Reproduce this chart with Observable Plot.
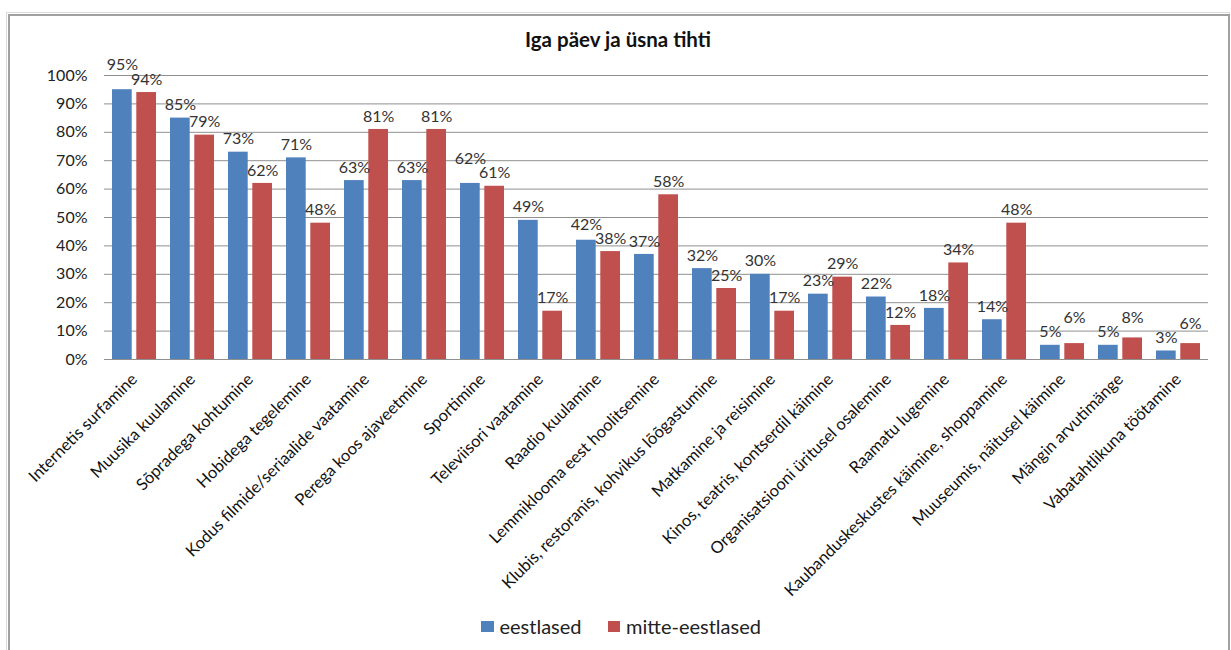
<!DOCTYPE html>
<html><head><meta charset="utf-8">
<script src="https://cdn.jsdelivr.net/npm/d3@7"></script>
<script src="https://cdn.jsdelivr.net/npm/@observablehq/plot@0.6"></script>
<style>
body{margin:0;background:#fff;font-family:Lato,sans-serif;width:1231px;height:650px;overflow:hidden;position:relative;}
#frame{position:absolute;left:6px;top:12px;width:1222px;height:700px;border:1px solid #dadada;}
#frame2{position:absolute;left:8px;top:14px;width:1218px;height:700px;border-top:2px solid #a0a0a0;border-left:2px solid #a0a0a0;border-right:2px solid #a0a0a0;}
#chart{position:absolute;left:0;top:0;}
#title{position:absolute;left:0;width:1236px;top:27px;text-align:center;font-weight:bold;font-size:20.5px;color:#111;}
#legend{position:absolute;top:614px;left:481px;font-size:20px;color:#222;display:flex;align-items:center;}
#legend .it{display:flex;align-items:center;margin-right:26px;}
#legend .sw{width:12.5px;height:11px;margin-right:6px;}
</style></head>
<body>
<div id="frame"></div><div id="frame2"></div>
<div id="chart"></div>
<div id="title"></div>
<div id="legend"></div>
<script>
const title = "Iga päev ja üsna tihti";
const categories = ["Internetis surfamine","Muusika kuulamine","Sõpradega kohtumine","Hobidega tegelemine","Kodus filmide/seriaalide vaatamine","Perega koos ajaveetmine","Sportimine","Televiisori vaatamine","Raadio kuulamine","Lemmiklooma eest hoolitsemine","Klubis, restoranis, kohvikus lõõgastumine","Matkamine ja reisimine","Kinos, teatris, kontserdil käimine","Organisatsiooni üritusel osalemine","Raamatu lugemine","Kaubanduskeskustes käimine, shoppamine","Muuseumis, näitusel käimine","Mängin arvutimänge","Vabatahtlikuna töötamine"];
const seriesNames = ["eestlased","mitte-eestlased"];
const seriesColors = ["#4F81BD","#C0504D"];
const eestlased = [95,85,73,71,63,63,62,49,42,37,32,30,23,22,18,14,5,5,3];
const mitteEestlased = [94,79,62,48,81,81,61,17,38,58,25,17,29,12,34,48,5.6,7.6,5.6];
const yTicks = [0,10,20,30,40,50,60,70,80,90,100];

document.getElementById("title").textContent = title;

// label placement: when the two labels of a category would collide, lift the taller bar's label
const minGap = 5; // in value units
function labelY(a, b) { const d = Math.abs(a - b); return a >= b && d < minGap ? a + (minGap - d) : a; }
const rowsA = categories.map((c,i)=>({category:c, value:eestlased[i], ly:labelY(eestlased[i], mitteEestlased[i])}));
const rowsB = categories.map((c,i)=>({category:c, value:mitteEestlased[i], ly:labelY(mitteEestlased[i], eestlased[i] + 0.001)}));

const off = 12.1;
const chart = Plot.plot({
  width:1231, height:650, marginTop:75, marginBottom:291, marginLeft:104, marginRight:23,
  style:{fontFamily:"Lato, sans-serif", background:"transparent", color:"#222"},
  x:{domain:categories, paddingInner:0.25, paddingOuter:0.125},
  y:{domain:[0,100]},
  marks:[
    Plot.ruleY(yTicks, {stroke:"#8f8f8f", strokeWidth:1}),
    Plot.barY(rowsA, {x:"category", y:"value", fill:seriesColors[0], insetRight:24.3}),
    Plot.barY(rowsB, {x:"category", y:"value", fill:seriesColors[1], insetLeft:24.3}),
    Plot.text(rowsA, {x:"category", y:"ly", text:d=>Math.round(d.value)+"%", dx:-off, dy:-13, lineAnchor:"middle", fontSize:16, fill:"#333"}),
    Plot.text(rowsB, {x:"category", y:"ly", text:d=>Math.round(d.value)+"%", dx:off, dy:-13, lineAnchor:"middle", fontSize:16, fill:"#333"}),
    Plot.axisY({ticks:yTicks, tickFormat:d=>d+"%", tickSize:0, tickPadding:17, fontSize:16, label:null, fill:"#222"}),
    Plot.axisX({tickRotate:-45, tickSize:0, tickPadding:17, fontSize:16.5, label:null, fill:"#111"})
  ]
});
document.getElementById("chart").appendChild(chart);

const leg = document.getElementById("legend");
seriesNames.forEach((n,i)=>{
  const it = document.createElement("div"); it.className="it";
  const sw = document.createElement("div"); sw.className="sw"; sw.style.background=seriesColors[i];
  const t = document.createElement("span"); t.textContent=n;
  it.appendChild(sw); it.appendChild(t); leg.appendChild(it);
});
</script>
</body></html>
